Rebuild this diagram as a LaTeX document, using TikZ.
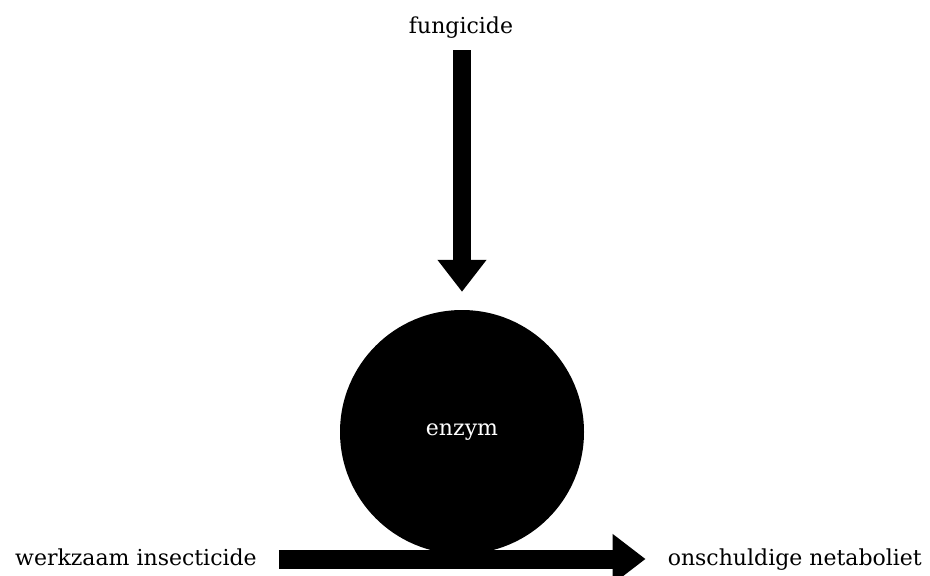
\documentclass[tikz,border=0pt]{standalone}
\usepackage{fontspec}
\setmainfont{DejaVu Serif}
\usepackage{tikz}
\usetikzlibrary{positioning,arrows.meta}

\begin{document}
\begin{tikzpicture}[
  x=1pt, y=-1pt,
  every node/.style={font=\fontsize{22}{26}\selectfont, inner sep=0pt},
  label/.style={text height=17pt, text depth=5pt},
  enzymBall/.style={circle, fill=black, text=white, minimum size=244pt},
  fatArrow/.style={line width=18pt, -{Triangle[length=32pt, width=47pt]}}
]
  \useasboundingbox (0,0) rectangle (930,576);

  % Enzym and inflow
  \node[enzymBall] (enzym) at (462,432) {enzym};
  \node[label, anchor=base] (fungi) at (461,33) {fungicide};
  \draw[fatArrow, shorten <=12pt, shorten >=18pt] (fungi.south -| enzym) -- (enzym.north);

  % Conversion
  \node[label, anchor=base west] (insect) at (15,565) {werkzaam insecticide};
  \node[label, anchor=base east] (meta) at (922,565) {onschuldige netaboliet};
  \draw[fatArrow, line width=19pt, -{Triangle[length=33pt, width=48pt]},
        shorten <=22pt, shorten >=22pt] (insect.east) -- (meta.west);
\end{tikzpicture}
\end{document}
